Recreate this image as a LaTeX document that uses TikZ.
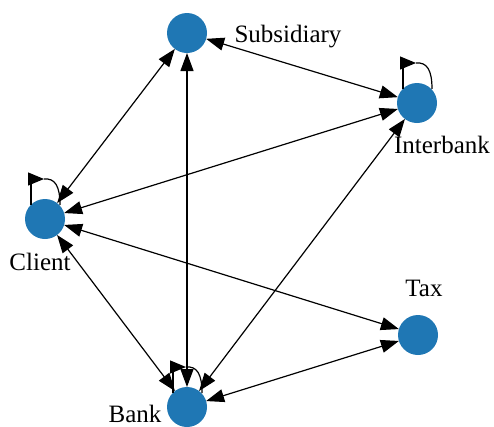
\documentclass[tikz,border=0pt]{standalone}
\usepackage{fontspec}
\setmainfont{Liberation Serif}
\usetikzlibrary{arrows.meta}
\definecolor{nodeblue}{HTML}{1F77B4}
\begin{document}
\begin{tikzpicture}[x=1pt,y=-1pt,
  vert/.style={circle,fill=nodeblue,minimum size=40pt,inner sep=0pt,outer sep=0pt},
  lbl/.style={font=\fontsize{25}{29}\selectfont,anchor=base,inner sep=0pt},
  link/.style={{Triangle[length=18pt,width=13pt]}-{Triangle[length=18pt,width=13pt]},line width=1.2pt},
  loopline/.style={line width=1.2pt},
  looptip/.style={-{Triangle[length=16pt,width=13pt]},line width=1.2pt}]
\useasboundingbox (0,0) rectangle (494,426);
\node[vert] (S) at (187,33) {};
\node[vert] (I) at (417,103) {};
\node[vert] (C) at (45,219) {};
\node[vert] (T) at (418,335) {};
\node[vert] (B) at (187,407) {};
\node[lbl] (Sl) at (288,42) {Subsidiary};
\node[lbl] (Il) at (442,153) {Interbank};
\node[lbl] (Cl) at (40,270) {Client};
\node[lbl] (Tl) at (424,296) {Tax};
\node[lbl] (Bl) at (135,422) {Bank};
\draw[link] (S) -- (I);
\draw[link] (S) -- (C);
\draw[link] (S) -- (B);
\draw[link] (I) -- (C);
\draw[link] (I) -- (B);
\draw[link] (C) -- (T);
\draw[link] (C) -- (B);
\draw[link] (B) -- (T);
\foreach \n in {C,I,B}{
  \begin{scope}[shift={(\n)}]
    \coordinate (\n a) at (-14,-14);
    \coordinate (\n b) at (-14,-36);
    \coordinate (\n c) at (-17,-40);
    \coordinate (\n d) at (-1,-40);
    \coordinate (\n e) at (15,-14);
    \draw[loopline] (\n a) -- (\n b);
    \draw[looptip] (\n c) -- (\n d);
    \draw[loopline] (\n d) .. controls (10,-41) and (15,-33) .. (\n e);
  \end{scope}
}
\end{tikzpicture}
\end{document}
